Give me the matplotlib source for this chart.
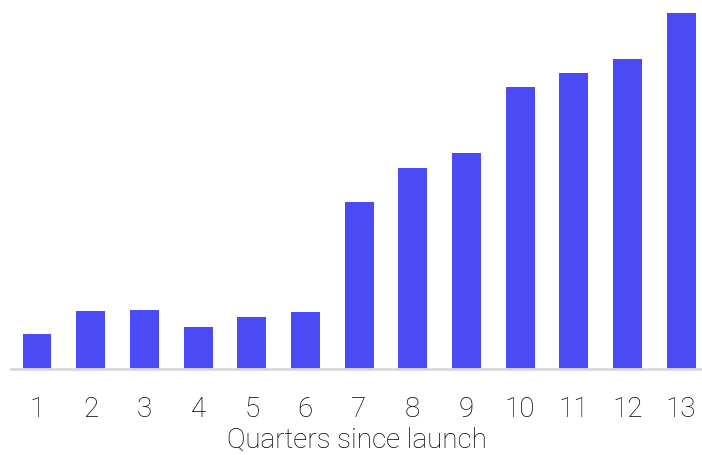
import matplotlib
matplotlib.use("Agg")
import matplotlib.pyplot as plt

quarters = list(range(1, 14))
values = [34.5, 57.5, 58.8, 41.5, 51.8, 56.5, 166.5, 200.5, 215.5, 281.2, 295.5, 309.8, 355.5]
tick_labels = [str(q) for q in quarters]

BAR_COLOR = '#4b4bf5'
AXIS_COLOR = '#d9d9d9'
TEXT_COLOR = '#000000'

plt.rcParams['font.family'] = ['Roboto', 'DejaVu Sans']

fig = plt.figure(figsize=(7.02, 4.56), dpi=100)
ax = fig.add_axes([11 / 702., 86.5 / 456., 691 / 702., 369.5 / 456.])

ax.bar(quarters, values, width=0.54, color=BAR_COLOR, align='center')

ax.set_xlim(0.5156, 13.39)
ax.set_ylim(0, 369.5)

for side in ['top', 'right', 'left']:
    ax.spines[side].set_visible(False)
ax.spines['bottom'].set_color(AXIS_COLOR)
ax.spines['bottom'].set_linewidth(2)

ax.set_yticks([])
ax.set_xticks(quarters)
ax.set_xticklabels(tick_labels, fontsize=20, fontweight='light', color=TEXT_COLOR)
ax.tick_params(axis='x', length=0, pad=19)
ax.set_xlabel("Quarters since launch", fontsize=20, fontweight='light', color=TEXT_COLOR, labelpad=3)

plt.savefig('out.png', dpi=100)
plt.close()
